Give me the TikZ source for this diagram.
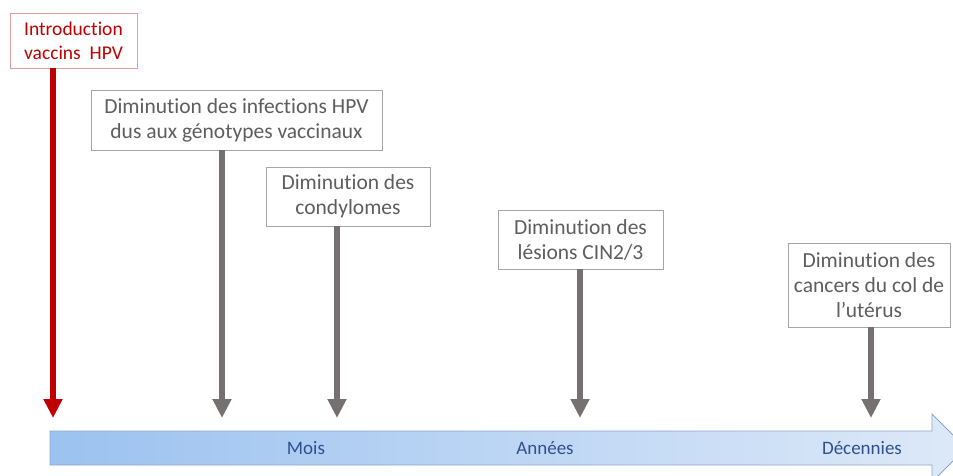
\documentclass[tikz,border=0pt]{standalone}
\usepackage{fontspec}
\setmainfont{Carlito}[Ligatures=NoCommon]
\usetikzlibrary{arrows.meta,positioning}
\definecolor{introred}{HTML}{C00000}
\definecolor{introframe}{HTML}{E79A9A}
\definecolor{boxframe}{HTML}{A6A6A6}
\definecolor{boxtext}{HTML}{5E5E5E}
\definecolor{arrgray}{HTML}{767171}
\definecolor{axisleft}{HTML}{9CC2F0}
\definecolor{axisright}{HTML}{DDE9F8}
\definecolor{axisframe}{HTML}{8EA6CF}
\definecolor{axistext}{HTML}{2F4F8F}

\begin{document}
\begin{tikzpicture}[x=1pt,y=-1pt,
	box/.style={draw=boxframe, fill=white, line width=0.9pt, align=center, inner sep=0pt,
		text=boxtext, font=\fontsize{21.5}{25}\selectfont},
	intro/.style={draw=introframe, fill=white, line width=0.9pt, align=center, inner sep=0pt,
		text=introred, font=\fontsize{19.5}{24}\selectfont},
	arr/.style={line width=6pt, draw=arrgray, -{Triangle[width=18pt,length=19pt]}},
	redarr/.style={arr, draw=introred},
	period/.style={text=axistext, font=\fontsize{19}{20}\selectfont}]
	\useasboundingbox (0,0) rectangle (953,475);
	\clip (0,0) rectangle (953,475);

	% time axis
	\shade[left color=axisleft, right color=axisright, draw=axisframe, line width=0.8pt]
	  (50,431) -- (932,431) -- (932,414) -- (966,448) -- (932,482) -- (932,465) -- (50,465) -- cycle;
	\node[period] (mois) at (306,448) {Mois};
	\node[period] (annees) at (545,448) {Années};
	\node[period] (decennies) at (862,448) {Décennies};

	% boxes
	\node[intro, minimum width=127pt, minimum height=55pt] (vacc) at (73.5,40.5) {Introduction\\vaccins\ \ HPV};
	\node[box, minimum width=291pt, minimum height=60pt] (infect) at (236.5,120) {Diminution des infections HPV\\dus aux génotypes vaccinaux};
	\node[box, minimum width=164pt, minimum height=59pt] (condy) at (348,196.5) {Diminution des\\condylomes};
	\node[box, minimum width=165pt, minimum height=59pt] (cin) at (580.5,239.5) {Diminution des\\lésions CIN2/3};
	\node[box, minimum width=162pt, minimum height=84pt] (cancer) at (869,285) {Diminution des\\cancers du col de\\l’utérus};

	% arrow ends
	\coordinate (tvacc) at (53,418);
	\coordinate (tinfect) at (222,418);
	\coordinate (tcondy) at (337,418);
	\coordinate (tcin) at (580,418);
	\coordinate (tcancer) at (871,418);

	\draw[redarr] (tvacc |- vacc.south) -- (tvacc);
	\draw[arr] (tinfect |- infect.south) -- (tinfect);
	\draw[arr] (tcondy |- condy.south) -- (tcondy);
	\draw[arr] (tcin |- cin.south) -- (tcin);
	\draw[arr] (tcancer |- cancer.south) -- (tcancer);
\end{tikzpicture}
\end{document}
